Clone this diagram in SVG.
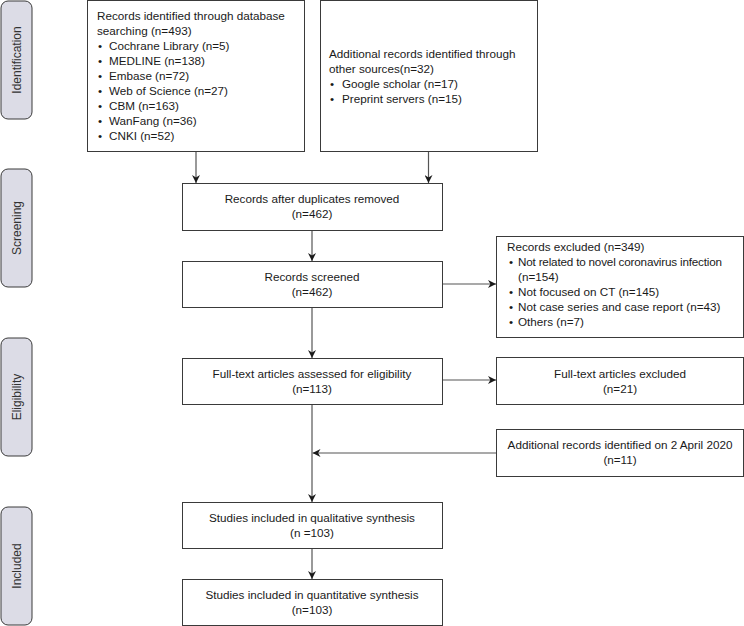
<svg xmlns="http://www.w3.org/2000/svg" width="744" height="626" viewBox="0 0 744 626">
<style>
.box{fill:#fff;stroke:#3a3a3a;stroke-width:1}
.lab{fill:#dcdce6;stroke:#3a3a3a;stroke-width:1}
text{font-family:"Liberation Sans",Arial,sans-serif;font-size:11.7px;fill:#1a1a1a}
.c{text-anchor:middle}
.side{font-size:12px;fill:#333;text-anchor:middle}
.ln{stroke:#555;stroke-width:1.2;fill:none}
</style>
<defs>
<marker id="ah" viewBox="0 0 10 10" refX="10" refY="5" markerWidth="8" markerHeight="8" markerUnits="userSpaceOnUse" orient="auto">
<path d="M0,0 L10,5 L0,10 L3,5 Z" fill="#1a1a1a"/>
</marker>
</defs>
<g id="phase-identification"><rect class="lab" x="1" y="1" width="31" height="118" rx="7"/><text class="side" transform="translate(20.5,60) rotate(-90)">Identification</text></g>
<g id="phase-screening"><rect class="lab" x="1" y="169" width="31" height="118" rx="7"/><text class="side" transform="translate(20.5,228) rotate(-90)">Screening</text></g>
<g id="phase-eligibility"><rect class="lab" x="1" y="338" width="31" height="118" rx="7"/><text class="side" transform="translate(20.5,397) rotate(-90)">Eligibility</text></g>
<g id="phase-included"><rect class="lab" x="1" y="507" width="31" height="118" rx="7"/><text class="side" transform="translate(20.5,566) rotate(-90)">Included</text></g>

<g id="db-search"><rect class="box" x="87.5" y="0.5" width="217" height="151"/>
<text x="97" y="20">Records identified through database</text>
<text x="97" y="35">searching (n=493)</text>
<text x="98" y="50">•</text><text x="109" y="50">Cochrane Library (n=5)</text>
<text x="98" y="65">•</text><text x="109" y="65">MEDLINE (n=138)</text>
<text x="98" y="80">•</text><text x="109" y="80">Embase (n=72)</text>
<text x="98" y="95">•</text><text x="109" y="95">Web of Science (n=27)</text>
<text x="98" y="110">•</text><text x="109" y="110">CBM (n=163)</text>
<text x="98" y="125">•</text><text x="109" y="125">WanFang (n=36)</text>
<text x="98" y="140">•</text><text x="109" y="140">CNKI (n=52)</text>
</g>
<g id="other-sources"><rect class="box" x="320.5" y="0.5" width="217" height="151"/>
<text x="329" y="58">Additional records identified through</text>
<text x="329" y="73">other sources(n=32)</text>
<text x="330" y="88">•</text><text x="342" y="88">Google scholar (n=17)</text>
<text x="330" y="103">•</text><text x="342" y="103">Preprint servers (n=15)</text>
</g>
<g id="dedup"><rect class="box" x="182.5" y="183.5" width="260" height="47"/>
<text class="c" x="312" y="203">Records after duplicates removed</text><text class="c" x="312" y="218">(n=462)</text></g>
<g id="screened"><rect class="box" x="182.5" y="261.5" width="260" height="46"/>
<text class="c" x="312" y="281">Records screened</text><text class="c" x="312" y="296">(n=462)</text></g>
<g id="excluded"><rect class="box" x="496.5" y="236.5" width="247" height="101"/>
<text x="507" y="251">Records excluded (n=349)</text>
<text x="509" y="266">•</text><text x="518" y="266" textLength="204">Not related to novel coronavirus infection</text>
<text x="518" y="281">(n=154)</text>
<text x="509" y="296">•</text><text x="518" y="296">Not focused on CT (n=145)</text>
<text x="509" y="311">•</text><text x="518" y="311">Not case series and case report (n=43)</text>
<text x="509" y="326">•</text><text x="518" y="326">Others (n=7)</text>
</g>
<g id="fulltext"><rect class="box" x="182.5" y="358.5" width="260" height="46"/>
<text class="c" x="312" y="378">Full-text articles assessed for eligibility</text><text class="c" x="312" y="393">(n=113)</text></g>
<g id="fulltext-excluded"><rect class="box" x="496.5" y="357.5" width="247" height="47"/>
<text class="c" x="620" y="378">Full-text articles excluded</text><text class="c" x="620" y="393">(n=21)</text></g>
<g id="april"><rect class="box" x="496.5" y="429.5" width="247" height="47"/>
<text class="c" x="620" y="449">Additional records identified on 2 April 2020</text><text class="c" x="620" y="464">(n=11)</text></g>
<g id="qualitative"><rect class="box" x="182.5" y="502.5" width="260" height="46"/>
<text class="c" x="312" y="522">Studies included in qualitative synthesis</text><text class="c" x="312" y="537">(n =103)</text></g>
<g id="quantitative"><rect class="box" x="182.5" y="579.5" width="260" height="46"/>
<text class="c" x="312" y="599">Studies included in quantitative synthesis</text><text class="c" x="312" y="614">(n=103)</text></g>

<g id="connectors">
<line class="ln" x1="196" y1="152" x2="196" y2="183" marker-end="url(#ah)"/>
<line class="ln" x1="428.5" y1="152" x2="428.5" y2="183" marker-end="url(#ah)"/>
<line class="ln" x1="312" y1="231" x2="312" y2="261" marker-end="url(#ah)"/>
<line class="ln" x1="443" y1="284" x2="496" y2="284" marker-end="url(#ah)"/>
<line class="ln" x1="312" y1="308" x2="312" y2="358" marker-end="url(#ah)"/>
<line class="ln" x1="443" y1="380" x2="496" y2="380" marker-end="url(#ah)"/>
<line class="ln" x1="312" y1="405" x2="312" y2="502" marker-end="url(#ah)"/>
<line class="ln" x1="496" y1="453" x2="312.5" y2="453" marker-end="url(#ah)"/>
<line class="ln" x1="312" y1="549" x2="312" y2="579" marker-end="url(#ah)"/>
</g>
</svg>
